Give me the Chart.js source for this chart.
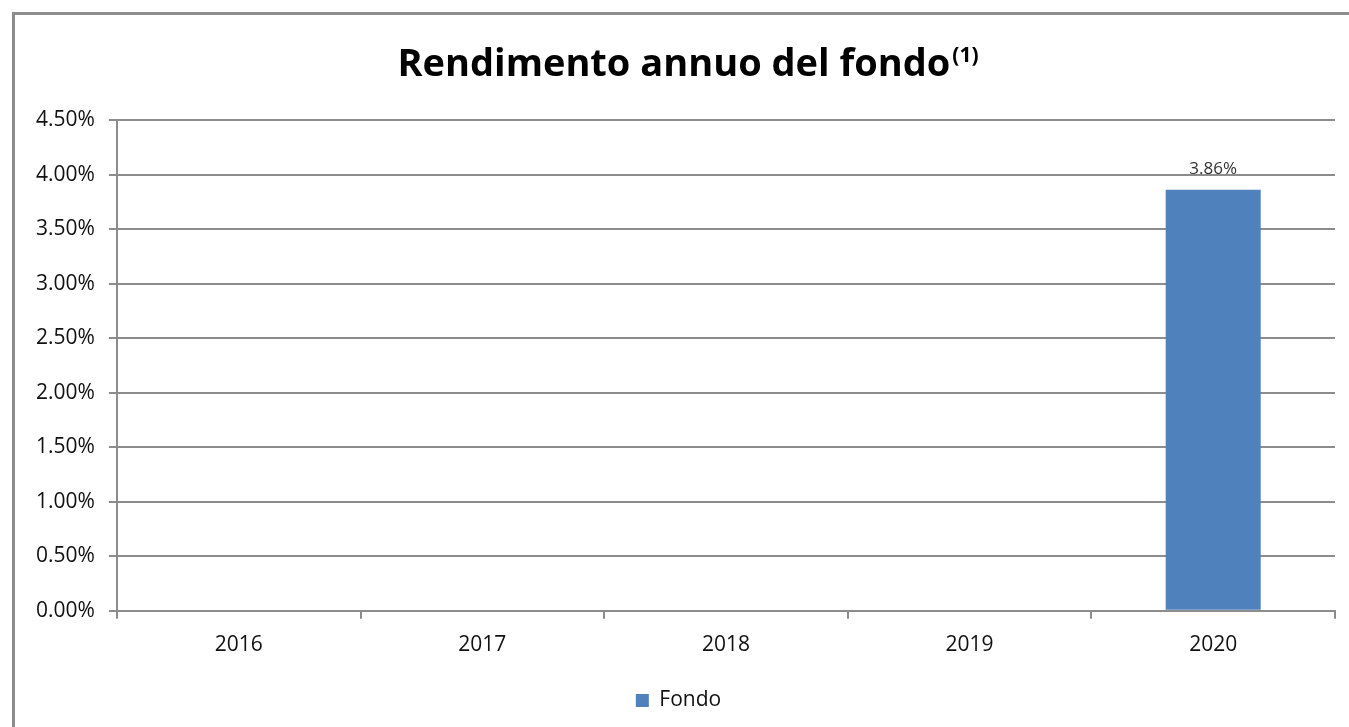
<!DOCTYPE html>
<html>
<head>
<meta charset="utf-8">
<script src="https://cdn.jsdelivr.net/npm/chart.js@4"></script>
<style>
  html, body { margin: 0; padding: 0; background: #fff; overflow: hidden; }
  #wrap { position: absolute; left: 0; top: 0; width: 1349px; height: 727px; }
</style>
</head>
<body>
<div id="wrap"><canvas id="myChart"></canvas></div>
<script>
// Dati del grafico
const anni = ['2016', '2017', '2018', '2019', '2020'];
const rendimentoFondo = [null, null, null, null, 3.86];
const titolo = 'Rendimento annuo del fondo';
const notaTitolo = '(1)';
const nomeSerie = 'Fondo';

const FONT = '"Open Sans", "Noto Sans", sans-serif';
const GRIGIO = '#8c8c8c';
const BLU = '#4f81bd';

// Cornice esterna e titolo con apice
const cornice = {
    id: 'cornice',
    beforeDraw(chart) {
        const c = chart.ctx;
        c.save();
        c.fillStyle = '#fff';
        c.fillRect(0, 0, chart.width, chart.height);
        c.strokeStyle = GRIGIO;
        c.lineWidth = 3;
        c.strokeRect(13.5, 13.5, chart.width + 20, chart.height + 20);
        c.restore();
    },
    afterDraw(chart) {
        const c = chart.ctx;
        c.save();
        c.fillStyle = '#000';
        c.textBaseline = 'alphabetic';
        c.font = 'bold 38px ' + FONT;
        const w1 = c.measureText(titolo).width;
        c.font = 'bold 21px ' + FONT;
        const w2 = c.measureText(notaTitolo).width;
        const x0 = 687 - (w1 + w2) / 2;
        c.font = 'bold 38px ' + FONT;
        c.fillText(titolo, x0, 76);
        c.font = 'bold 21px ' + FONT;
        c.fillText(notaTitolo, x0 + w1 + 2, 62);
        c.restore();
    }
};

// Etichetta del valore sopra la barra
const etichette = {
    id: 'etichette',
    afterDatasetsDraw(chart) {
        const c = chart.ctx;
        const meta = chart.getDatasetMeta(0);
        c.save();
        c.font = '17px ' + FONT;
        c.fillStyle = '#333';
        c.textAlign = 'center';
        c.textBaseline = 'bottom';
        meta.data.forEach((bar, i) => {
            const v = rendimentoFondo[i];
            if (v === null) return;
            c.fillText(v.toFixed(2) + '%', bar.x, bar.y - 12);
        });
        c.restore();
    }
};

const ctx = document.getElementById('myChart').getContext('2d');

const chart = new Chart(ctx, {
    type: 'bar',
    data: {
        labels: anni,
        datasets: [{
            label: nomeSerie,
            data: rendimentoFondo,
            backgroundColor: BLU,
            borderWidth: 0,
            categoryPercentage: 1,
            barPercentage: 0.39
        }]
    },
    options: {
        responsive: true,
        maintainAspectRatio: false,
        animation: false,
        layout: {
            padding: { left: 22, right: 14, top: 120, bottom: 6 }
        },
        scales: {
            x: {
                offset: true,
                grid: {
                    offset: true,
                    drawOnChartArea: false,
                    drawTicks: true,
                    tickLength: 8,
                    color: GRIGIO,
                    lineWidth: 2
                },
                border: { color: GRIGIO, width: 2 },
                ticks: {
                    color: '#111',
                    padding: 14,
                    font: { family: FONT, size: 21 }
                }
            },
            y: {
                min: 0,
                max: 4.5,
                grid: {
                    color: GRIGIO,
                    lineWidth: 2,
                    tickLength: 8
                },
                border: { color: GRIGIO, width: 2 },
                ticks: {
                    stepSize: 0.5,
                    color: '#111',
                    padding: 14,
                    font: { family: FONT, size: 21 },
                    callback: function (value) {
                        return value.toFixed(2) + '%';
                    }
                }
            }
        },
        plugins: {
            title: { display: false },
            tooltip: { enabled: false },
            legend: {
                position: 'bottom',
                labels: {
                    boxWidth: 13,
                    boxHeight: 13,
                    padding: 18,
                    color: '#111',
                    font: { family: FONT, size: 21 }
                }
            }
        }
    },
    plugins: [cornice, etichette]
});
</script>
</body>
</html>
